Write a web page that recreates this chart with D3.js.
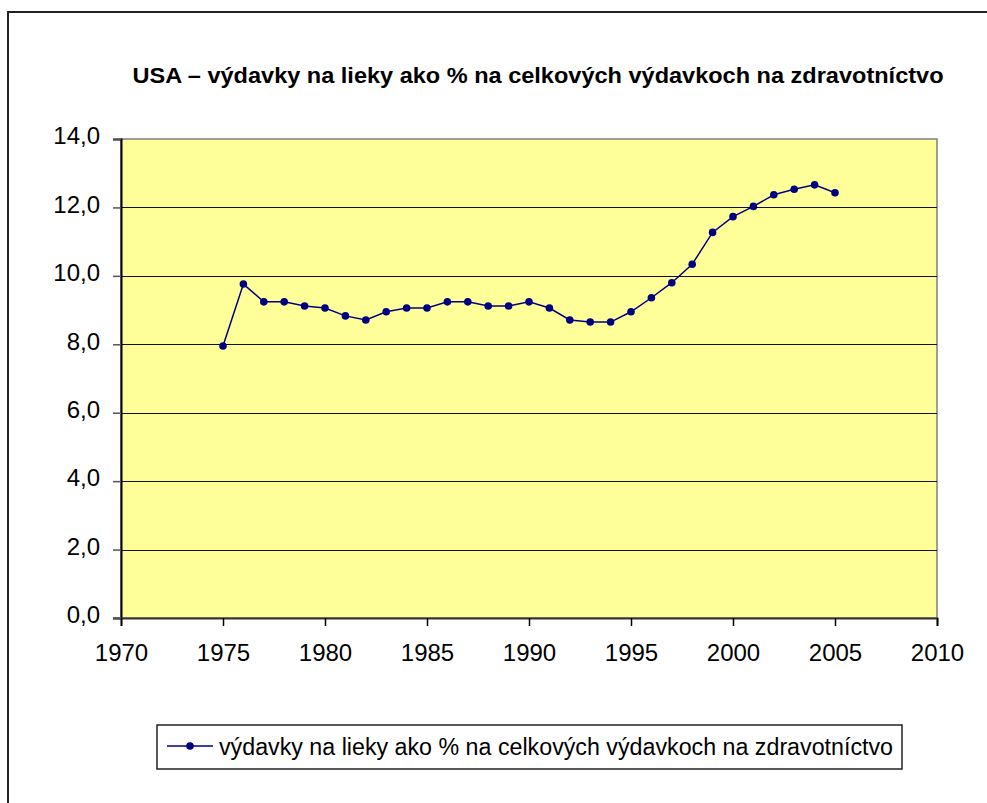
<!DOCTYPE html>
<html>
<head>
<meta charset="utf-8">
<script src="https://cdn.jsdelivr.net/npm/d3@7"></script>
<style>
  html, body { margin: 0; padding: 0; background: #fff; }
  svg { display: block; font-family: "Liberation Sans", Arial, sans-serif; }
</style>
</head>
<body>
<svg id="chart" width="987" height="803"></svg>
<script>
// Drug spending in the USA as a share of total health expenditure (%)
const years = [1975, 1976, 1977, 1978, 1979, 1980, 1981, 1982, 1983, 1984,
               1985, 1986, 1987, 1988, 1989, 1990, 1991, 1992, 1993, 1994,
               1995, 1996, 1997, 1998, 1999, 2000, 2001, 2002, 2003, 2004, 2005];
const shares = [7.95, 9.76, 9.24, 9.24, 9.12, 9.06, 8.83, 8.71, 8.95, 9.06,
                9.06, 9.24, 9.24, 9.12, 9.12, 9.24, 9.06, 8.71, 8.65, 8.65,
                8.95, 9.36, 9.80, 10.34, 11.27, 11.73, 12.03, 12.37, 12.53, 12.66, 12.43];
const yTicks = [0, 2, 4, 6, 8, 10, 12, 14];
const xTicks = [1970, 1975, 1980, 1985, 1990, 1995, 2000, 2005, 2010];
const titleText = "USA – výdavky na lieky ako % na celkových výdavkoch na zdravotníctvo";
const seriesName = "výdavky na lieky ako % na celkových výdavkoch na zdravotníctvo";

const svg = d3.select("#chart");
const plot = { left: 121, right: 937, top: 139, bottom: 618 };

const x = d3.scaleLinear().domain([1970, 2010]).range([plot.left, plot.right]);
const y = d3.scaleLinear().domain([0, 14]).range([plot.bottom, plot.top]);
const fmt = v => d3.format(".1f")(v).replace(".", ",");

// outer chart frame (runs off the page at right and bottom)
svg.append("rect")
  .attr("x", 8).attr("y", 12).attr("width", 1000).attr("height", 820)
  .attr("fill", "#fff").attr("stroke", "#222").attr("stroke-width", 2);

// title
svg.append("text")
  .attr("x", 538).attr("y", 83)
  .attr("text-anchor", "middle")
  .attr("font-weight", "bold").attr("font-size", 22)
  .attr("textLength", 811).attr("lengthAdjust", "spacingAndGlyphs")
  .text(titleText);

// plot background
svg.append("rect")
  .attr("x", plot.left).attr("y", plot.top)
  .attr("width", plot.right - plot.left).attr("height", plot.bottom - plot.top)
  .attr("fill", "#FFFF99").attr("stroke", "#808080").attr("stroke-width", 1.5);

// horizontal gridlines
svg.append("g").selectAll("line")
  .data(yTicks.filter(d => d > 0 && d < 14))
  .join("line")
  .attr("x1", plot.left).attr("x2", plot.right)
  .attr("y1", d => Math.round(y(d)) + 0.5).attr("y2", d => Math.round(y(d)) + 0.5)
  .attr("stroke", "#111").attr("stroke-width", 1);

// y axis
const yAxis = svg.append("g")
  .attr("transform", `translate(${plot.left},0)`)
  .call(d3.axisLeft(y).tickValues(yTicks).tickFormat(fmt).tickSize(8).tickPadding(13));
yAxis.select(".domain").attr("stroke", "#000").attr("stroke-width", 2);
yAxis.selectAll(".tick line").attr("stroke", "#555").attr("stroke-width", 1.5);
yAxis.selectAll("text").attr("font-size", 24).attr("fill", "#000").attr("dy", "0.2em")
  .attr("font-family", "Liberation Sans, Arial, sans-serif");

// x axis
const xAxis = svg.append("g")
  .attr("transform", `translate(0,${plot.bottom})`)
  .call(d3.axisBottom(x).tickValues(xTicks).tickFormat(d3.format("d")).tickSize(8).tickPadding(18));
xAxis.select(".domain").attr("stroke", "#333").attr("stroke-width", 2);
xAxis.selectAll(".tick line").attr("stroke", "#000").attr("stroke-width", 1.5);
xAxis.selectAll("text").attr("font-size", 24).attr("fill", "#000")
  .attr("font-family", "Liberation Sans, Arial, sans-serif");
// the left tick of the y axis also reaches across the corner
svg.append("line")
  .attr("x1", plot.left - 8).attr("x2", plot.left)
  .attr("y1", plot.bottom).attr("y2", plot.bottom)
  .attr("stroke", "#555").attr("stroke-width", 1.5);

// series line and markers
const pts = years.map((yr, i) => [yr, shares[i]]);
svg.append("path")
  .datum(pts)
  .attr("fill", "none").attr("stroke", "#000080").attr("stroke-width", 1.5)
  .attr("d", d3.line().x(d => x(d[0])).y(d => y(d[1])));
svg.append("g").selectAll("circle")
  .data(pts).join("circle")
  .attr("cx", d => x(d[0])).attr("cy", d => y(d[1])).attr("r", 3.8)
  .attr("fill", "#000080");

// legend
const lg = svg.append("g");
lg.append("rect")
  .attr("x", 157).attr("y", 725).attr("width", 745).attr("height", 44)
  .attr("fill", "#fff").attr("stroke", "#222").attr("stroke-width", 1.5);
lg.append("line")
  .attr("x1", 167).attr("x2", 213).attr("y1", 746).attr("y2", 746)
  .attr("stroke", "#000080").attr("stroke-width", 1.5);
lg.append("circle").attr("cx", 190).attr("cy", 746).attr("r", 3.8).attr("fill", "#000080");
lg.append("text")
  .attr("x", 219).attr("y", 755)
  .attr("font-size", 23)
  .attr("textLength", 674).attr("lengthAdjust", "spacingAndGlyphs")
  .text(seriesName);
</script>
</body>
</html>
